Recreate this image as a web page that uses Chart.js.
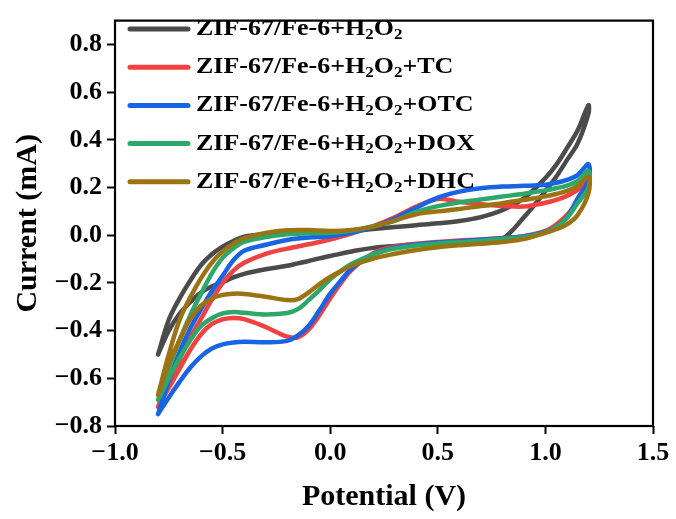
<!DOCTYPE html>
<html>
<head>
<meta charset="utf-8">
<script src="https://cdn.jsdelivr.net/npm/chart.js@4.4.1/dist/chart.umd.min.js"></script>
<style>
	html, body { margin: 0; padding: 0; background: #fff; }
	#wrap { width: 676px; height: 519px; }
</style>
</head>
<body>
<div id="wrap"><canvas id="chart" width="676" height="519"></canvas></div>
<script>
// potential sweep, anodic (up) then cathodic (down), in V
const sweepUp = [-0.8, -0.75, -0.7, -0.65, -0.6, -0.55, -0.5, -0.45, -0.4, -0.3, -0.2, -0.1, 0, 0.1, 0.2, 0.3, 0.4, 0.5, 0.6, 0.7, 0.8, 0.9, 1.0, 1.05, 1.1, 1.15, 1.2];
const sweepDown = [1.2, 1.15, 1.1, 1.05, 1.0, 0.9, 0.8, 0.7, 0.6, 0.5, 0.4, 0.3, 0.2, 0.1, 0.05, 0, -0.05, -0.1, -0.15, -0.2, -0.3, -0.4, -0.45, -0.5, -0.55, -0.6, -0.65, -0.7, -0.75, -0.8];

// current (mA)
const h2o2Up = [-0.5, -0.355, -0.265, -0.19, -0.125, -0.08, -0.048, -0.024, -0.006, 0.004, 0.008, 0.01, 0.012, 0.018, 0.026, 0.034, 0.042, 0.05, 0.06, 0.076, 0.105, 0.155, 0.24, 0.295, 0.365, 0.44, 0.545];
const h2o2Down = [0.51, 0.385, 0.315, 0.245, 0.185, 0.075, -0.015, -0.028, -0.033, -0.036, -0.039, -0.045, -0.053, -0.068, -0.077, -0.087, -0.097, -0.108, -0.118, -0.128, -0.143, -0.162, -0.177, -0.197, -0.215, -0.24, -0.28, -0.33, -0.4, -0.5];

const tcUp = [-0.72, -0.61, -0.52, -0.43, -0.35, -0.27, -0.2, -0.148, -0.115, -0.078, -0.056, -0.038, -0.018, 0.008, 0.038, 0.075, 0.12, 0.152, 0.14, 0.13, 0.123, 0.12, 0.136, 0.148, 0.165, 0.19, 0.225];
const tcDown = [0.205, 0.14, 0.085, 0.045, 0.018, -0.004, -0.012, -0.018, -0.022, -0.028, -0.036, -0.048, -0.075, -0.145, -0.2, -0.265, -0.335, -0.395, -0.428, -0.425, -0.385, -0.352, -0.347, -0.353, -0.372, -0.415, -0.48, -0.56, -0.64, -0.72];

const otcUp = [-0.75, -0.61, -0.49, -0.39, -0.31, -0.235, -0.17, -0.105, -0.065, -0.04, -0.02, -0.01, -0.004, 0.01, 0.035, 0.07, 0.115, 0.158, 0.183, 0.197, 0.204, 0.207, 0.212, 0.22, 0.232, 0.252, 0.298];
const otcDown = [0.23, 0.155, 0.075, 0.035, 0.014, -0.004, -0.013, -0.019, -0.025, -0.031, -0.039, -0.052, -0.08, -0.14, -0.19, -0.245, -0.315, -0.38, -0.42, -0.443, -0.449, -0.447, -0.45, -0.458, -0.475, -0.508, -0.555, -0.615, -0.68, -0.75];

const doxUp = [-0.69, -0.56, -0.44, -0.335, -0.245, -0.16, -0.095, -0.055, -0.028, -0.008, 0.004, 0.008, 0.01, 0.02, 0.038, 0.06, 0.098, 0.122, 0.138, 0.15, 0.162, 0.174, 0.188, 0.197, 0.208, 0.228, 0.27];
const doxDown = [0.2, 0.135, 0.072, 0.034, 0.012, -0.007, -0.016, -0.023, -0.029, -0.035, -0.043, -0.056, -0.08, -0.12, -0.15, -0.185, -0.23, -0.272, -0.31, -0.326, -0.332, -0.325, -0.322, -0.328, -0.348, -0.38, -0.44, -0.515, -0.6, -0.69];

const dhcUp = [-0.67, -0.5, -0.355, -0.26, -0.18, -0.115, -0.068, -0.035, -0.012, 0.01, 0.021, 0.022, 0.018, 0.022, 0.036, 0.062, 0.088, 0.1, 0.11, 0.122, 0.134, 0.148, 0.163, 0.173, 0.186, 0.207, 0.245];
const dhcDown = [0.175, 0.085, 0.045, 0.025, 0.01, -0.016, -0.028, -0.036, -0.042, -0.05, -0.062, -0.078, -0.098, -0.128, -0.15, -0.175, -0.205, -0.24, -0.268, -0.272, -0.258, -0.246, -0.245, -0.25, -0.265, -0.295, -0.35, -0.44, -0.54, -0.67];

const seriesLabels = ["ZIF-67/Fe-6+H₂O₂", "ZIF-67/Fe-6+H₂O₂+TC", "ZIF-67/Fe-6+H₂O₂+OTC", "ZIF-67/Fe-6+H₂O₂+DOX", "ZIF-67/Fe-6+H₂O₂+DHC"];
const seriesColors = ["#4b4b4b", "#f24141", "#1864e2", "#2ea86a", "#9b7312"];
const seriesCurrents = [
	[h2o2Up, h2o2Down],
	[tcUp, tcDown],
	[otcUp, otcDown],
	[doxUp, doxDown],
	[dhcUp, dhcDown],
];

const FONT = "'Liberation Serif', 'Times New Roman', serif";
const potential = sweepUp.concat(sweepDown);

const toPoints = ([up, down]) => up.concat(down).map((y, i) => ({ x: potential[i], y }));

const fmt = (v) => {
	if (Math.abs(v) < 1e-9) v = 0;
	return v.toFixed(1).replace("-", "\u2212");
};

// legend drawn inside the plot, with lowered "2" for H2O2
const legendBox = {
	id: "legendBox",
	afterDatasetsDraw(chart) {
		const { ctx } = chart;
		const stretch = 1.13;
		ctx.save();
		seriesLabels.forEach((label, i) => {
			const y = 29 + i * 38.2;
			ctx.strokeStyle = seriesColors[i];
			ctx.lineWidth = 5;
			ctx.lineCap = "round";
			ctx.beginPath();
			ctx.moveTo(130, y);
			ctx.lineTo(188, y);
			ctx.stroke();

			ctx.save();
			ctx.translate(196, y);
			ctx.scale(stretch, 1);
			ctx.fillStyle = "#000";
			ctx.textBaseline = "middle";
			let x = 0;
			label.split(/(₂)/).forEach((part) => {
				if (!part) return;
				if (part === "₂") {
					ctx.font = "bold 15px " + FONT;
					ctx.fillText("2", x, 6);
					x += ctx.measureText("2").width;
				} else {
					ctx.font = "bold 23px " + FONT;
					ctx.fillText(part, x, 0);
					x += ctx.measureText(part).width;
				}
			});
			ctx.restore();
		});
		ctx.restore();
	},
	afterDraw(chart) {
		const { ctx, chartArea: a } = chart;
		ctx.save();
		ctx.strokeStyle = "#000";
		ctx.lineWidth = 2.2;
		ctx.strokeRect(a.left, a.top, a.right - a.left, a.bottom - a.top);
		ctx.restore();
	},
};

const ctx = document.getElementById("chart").getContext("2d");

window.chart = new Chart(ctx, {
	type: "line",
	data: {
		datasets: seriesCurrents.map((c, i) => ({
			label: seriesLabels[i],
			data: toPoints(c),
			borderColor: seriesColors[i],
			backgroundColor: seriesColors[i],
			borderWidth: 4.5,
			pointRadius: 0,
			tension: 0.35,
			fill: false,
			borderCapStyle: "round",
			borderJoinStyle: "round",
			order: seriesLabels.length - i,
		})),
	},
	options: {
		responsive: false,
		animation: false,
		layout: { padding: { left: 0, top: 13, right: 23, bottom: 0 } },
		plugins: {
			legend: { display: false },
			tooltip: { enabled: false },
		},
		scales: {
			x: {
				type: "linear",
				min: -1.0,
				max: 1.5,
				border: { display: false },
				grid: { drawOnChartArea: false, drawTicks: true, tickLength: 8, tickWidth: 2, tickColor: "#000" },
				ticks: {
					stepSize: 0.5,
					color: "#000",
					padding: 4,
					font: { family: FONT, size: 26, weight: "bold" },
					callback: fmt,
				},
				title: {
					display: true,
					text: "Potential (V)",
					color: "#000",
					font: { family: FONT, size: 30, weight: "bold" },
					padding: { top: 0, bottom: 4 },
				},
				afterFit: (scale) => {
					scale.height = 93;
				},
			},
			y: {
				type: "linear",
				min: -0.8,
				max: 0.9,
				border: { display: false },
				grid: { drawOnChartArea: false, drawTicks: true, tickLength: 8, tickWidth: 2, tickColor: "#000" },
				ticks: {
					stepSize: 0.2,
					includeBounds: false,
					color: "#000",
					padding: 5,
					font: { family: FONT, size: 26, weight: "bold" },
					callback: fmt,
				},
				title: {
					display: true,
					text: "Current (mA)",
					color: "#000",
					font: { family: FONT, size: 30, weight: "bold" },
					padding: { top: 10, bottom: 0 },
				},
				afterFit: (scale) => {
					scale.width = 115;
				},
			},
		},
	},
	plugins: [legendBox],
});
</script>
</body>
</html>
